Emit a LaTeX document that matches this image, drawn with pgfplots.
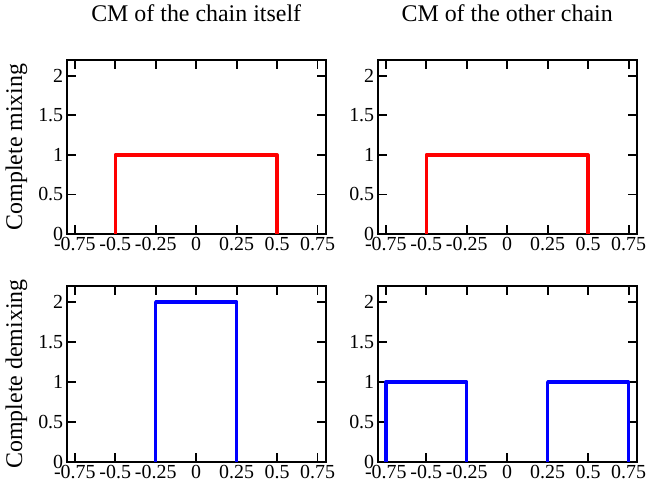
\documentclass[border=0pt]{standalone}
\usepackage{fontspec}
\setmainfont{Liberation Serif}
\usepackage{pgfplots}
\pgfplotsset{compat=1.18}

\pgfplotsset{
  cmpanel/.style={
    scale only axis,
    width=259bp,
    xmin=-0.8, xmax=0.8,
    ymin=0, ymax=2.2,
    xtick={-0.75,-0.5,-0.25,0,0.25,0.5,0.75},
    ytick={0,0.5,1,1.5,2},
    minor tick num=0,
    tick align=inside,
    tick pos=both,
    xticklabel pos=lower,
    yticklabel pos=left,
    major tick length=9bp,
    axis line style={line width=1.8bp},
    every tick/.style={black, line width=1.8bp},
    /pgf/number format/assume math mode=true,
    tick label style={font=\fontsize{20}{24}\selectfont},
    title style={at={(axis description cs:0.5,1)}, anchor=base, yshift=33bp,
      font=\fontsize{24}{28}\selectfont},
    ylabel style={at={(axis description cs:-0.172,0.5)}, anchor=base,
      font=\fontsize{24}{28}\selectfont},
  },
  mixline/.style={red, line width=3.5bp, line join=round},
  demixline/.style={blue, line width=3.5bp, line join=round},
}

\begin{document}
\begin{tikzpicture}
\useasboundingbox (0,0) rectangle (650bp,-486bp);

% top row: complete mixing
\begin{axis}[cmpanel, height=174bp, at={(66.7bp,-234bp)}, anchor=south west,
  title={CM of the chain itself}, ylabel={Complete mixing}]
  \addplot[mixline] coordinates {(-0.5,0) (-0.5,1) (0.5,1) (0.5,0)};
\end{axis}

\begin{axis}[cmpanel, height=174bp, at={(377.7bp,-234bp)}, anchor=south west,
  title={CM of the other chain}]
  \addplot[mixline] coordinates {(-0.5,0) (-0.5,1) (0.5,1) (0.5,0)};
\end{axis}

% bottom row: complete demixing
\begin{axis}[cmpanel, height=176bp, at={(66.7bp,-462bp)}, anchor=south west,
  ylabel={Complete demixing}]
  \addplot[demixline] coordinates {(-0.25,0) (-0.25,2) (0.25,2) (0.25,0)};
\end{axis}

\begin{axis}[cmpanel, height=176bp, at={(377.7bp,-462bp)}, anchor=south west]
  \addplot[demixline] coordinates {(-0.75,0) (-0.75,1) (-0.25,1) (-0.25,0)};
  \addplot[demixline] coordinates {(0.25,0) (0.25,1) (0.75,1) (0.75,0)};
\end{axis}
\end{tikzpicture}
\end{document}
